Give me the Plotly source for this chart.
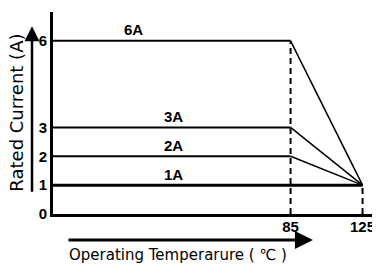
import plotly.graph_objects as go

# ---- data ----
currents = [6, 3, 2, 1]
current_labels = ["6A", "3A", "2A", "1A"]
t_min = -47          # left end of the temperature axis
t_derate = 85        # derating starts
t_max = 125          # maximum operating temperature
i_at_max = 1         # current at maximum temperature
y_ticks = [0, 1, 2, 3, 6]
x_ticks = [85, 125]
label_x = [-2, 20, 20, 20]

FONT = "Liberation Sans, Arial, sans-serif"
fig = go.Figure()

# flat segments
for c in currents:
    fig.add_trace(go.Scatter(
        x=[t_min, t_derate if c != i_at_max else t_max], y=[c, c],
        mode="lines", line=dict(color="black", width=3 if c == i_at_max else 2),
        hoverinfo="skip", showlegend=False, cliponaxis=False))

# derating segments
for c in currents:
    if c == i_at_max:
        continue
    fig.add_trace(go.Scatter(
        x=[t_derate, t_max], y=[c, i_at_max], mode="lines",
        line=dict(color="black", width=1.5), hoverinfo="skip", showlegend=False))

# dashed verticals
fig.add_trace(go.Scatter(x=[t_derate, t_derate], y=[0, max(currents)], mode="lines",
                         line=dict(color="black", width=2, dash="6px,4px"),
                         hoverinfo="skip", showlegend=False))
fig.add_trace(go.Scatter(x=[t_max, t_max], y=[0, i_at_max], mode="lines",
                         line=dict(color="black", width=2, dash="6px,4px"),
                         hoverinfo="skip", showlegend=False))

annotations = []
for c, lab, lx in zip(currents, current_labels, label_x):
    annotations.append(dict(x=lx, y=c, text=lab, showarrow=False, yshift=11,
                            font=dict(family=FONT, size=15, color="black", weight="bold")))

# axis titles
annotations.append(dict(xref="paper", yref="paper", x=-0.11, y=0.502, text="Rated Current (A)",
                        textangle=-90, showarrow=False, xanchor="center", yanchor="middle",
                        font=dict(family="DejaVu Sans, sans-serif", size=18, color="black")))
annotations.append(dict(xref="paper", yref="paper", x=0.381, y=-0.203,
                        text="Operating Temperarure ( ℃ )", showarrow=False,
                        xanchor="center", yanchor="middle",
                        font=dict(family="DejaVu Sans, sans-serif", size=15, color="black")))
# arrows
annotations.append(dict(xref="paper", yref="paper", x=-0.0642, y=0.93, ax=0, ay=167,
                        text="", showarrow=True, arrowhead=2, arrowsize=1.2, arrowwidth=2.5,
                        arrowcolor="black"))
annotations.append(dict(xref="paper", yref="paper", x=0.795, y=-0.1287, ax=-246, ay=0,
                        text="", showarrow=True, arrowhead=2, arrowsize=1.2, arrowwidth=3,
                        arrowcolor="black"))

fig.update_layout(
    width=380, height=264,
    margin=dict(l=45, r=8, t=4, b=58),
    paper_bgcolor="white", plot_bgcolor="white",
    showlegend=False,
    annotations=annotations,
    xaxis=dict(range=[t_min, 134.7], tickvals=x_ticks, ticktext=[str(v) for v in x_ticks],
               showgrid=False, zeroline=False, showline=True, linecolor="black", linewidth=3,
               ticks="", ticklabelstandoff=-3,
               tickfont=dict(family=FONT, size=15, color="black", weight="bold")),
    yaxis=dict(range=[0, 7.0], tickvals=y_ticks, ticktext=[str(v) for v in y_ticks],
               showgrid=False, zeroline=False, showline=True, linecolor="black", linewidth=3,
               ticks="", tickfont=dict(family=FONT, size=15, color="black", weight="bold")),
)

fig.write_html("out.html")
